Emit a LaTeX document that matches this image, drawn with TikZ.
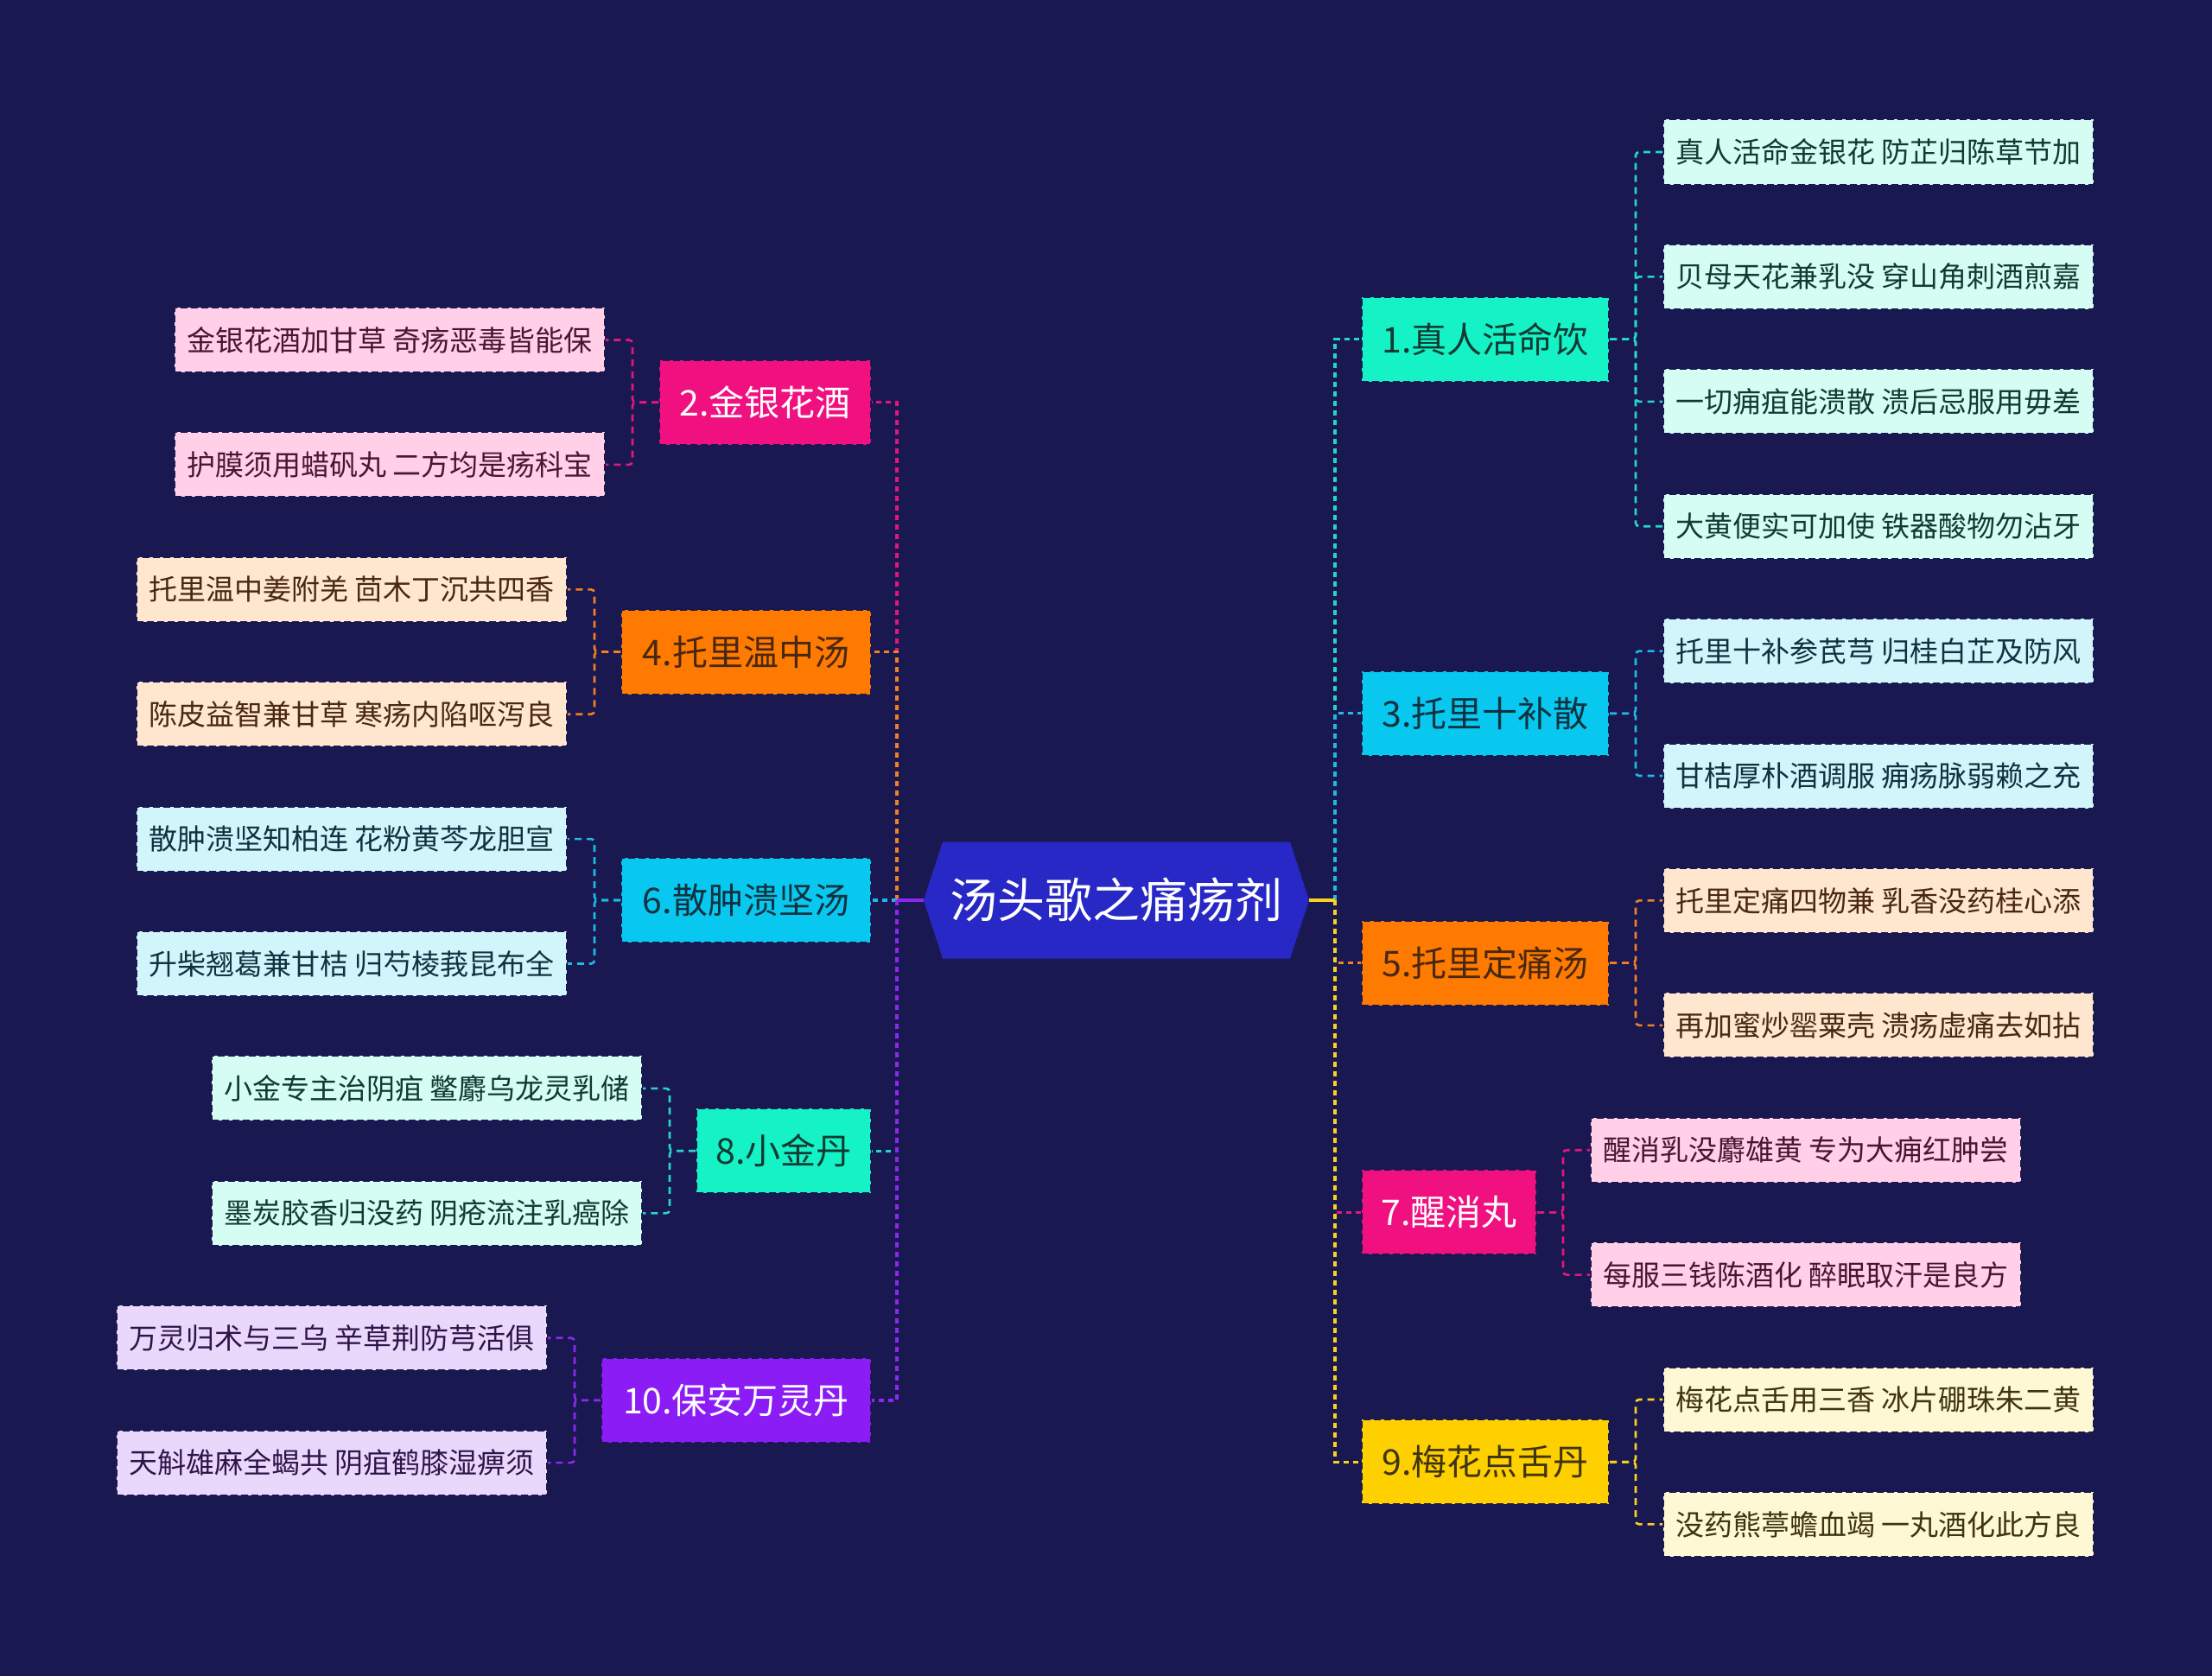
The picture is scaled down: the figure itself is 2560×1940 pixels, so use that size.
\documentclass[tikz,border=0pt]{standalone}
\usepackage{fontspec}
\setmainfont{Noto Sans CJK SC}
\usetikzlibrary{shapes.symbols,positioning}

\definecolor{bg}{RGB}{26,24,80}
\definecolor{rootc}{RGB}{40,40,198}
\definecolor{mint}{RGB}{20,242,198}
\definecolor{mintleaf}{RGB}{214,253,243}
\definecolor{mintline}{RGB}{36,214,198}
\definecolor{minttext}{RGB}{18,58,50}
\definecolor{rose}{RGB}{240,16,128}
\definecolor{roseleaf}{RGB}{255,208,232}
\definecolor{roseline}{RGB}{228,22,126}
\definecolor{rosetext}{RGB}{72,22,48}
\definecolor{sky}{RGB}{8,200,240}
\definecolor{skyleaf}{RGB}{210,245,252}
\definecolor{skyline}{RGB}{30,186,228}
\definecolor{skytext}{RGB}{16,50,64}
\definecolor{amber}{RGB}{255,122,0}
\definecolor{amberleaf}{RGB}{255,230,206}
\definecolor{amberline}{RGB}{242,128,36}
\definecolor{ambertext}{RGB}{72,40,18}
\definecolor{gold}{RGB}{255,208,0}
\definecolor{goldleaf}{RGB}{255,248,212}
\definecolor{goldline}{RGB}{250,210,30}
\definecolor{goldtext}{RGB}{62,52,18}
\definecolor{violet}{RGB}{140,28,246}
\definecolor{violetleaf}{RGB}{234,216,252}
\definecolor{violetline}{RGB}{142,40,240}
\definecolor{violettext}{RGB}{46,20,72}

\begin{document}
\begin{tikzpicture}[x=1pt,y=-1pt,
    lvone/.style={draw=bg, fill=#1, dash pattern=on 8pt off 4pt, line width=2pt,
      minimum height=98pt, inner sep=0pt, font=\fontsize{41}{48}\selectfont},
    leaf/.style={draw=bg, fill=#1leaf, text=#1text, dash pattern=on 8pt off 4pt,
      line width=2pt, minimum width=498pt, minimum height=75pt, inner sep=0pt,
      font=\fontsize{33}{40}\selectfont},
    trunk/.style={draw=#1line, dash pattern=on 6pt off 5pt, line width=3.2pt},
    twig/.style={draw=#1line, dash pattern=on 8pt off 6pt, line width=2.6pt, rounded corners=4pt}]
    \useasboundingbox (0,0) rectangle (2560,1940);
    \fill[bg] (0,0) rectangle (2560,1940);

    % root
    \node[signal, signal to=west and east, signal pointer angle=144, fill=rootc, text=white,
      minimum width=446pt, minimum height=135pt, inner sep=0pt,
      font=\fontsize{55}{64}\selectfont] (root) at (1292,1042) {汤头歌之痛疡剂};
    \coordinate (rr) at (1545,1042);
    \coordinate (rl) at (1038,1042);

    % right branches
    \node[lvone=mint, text=minttext, minimum width=286pt, anchor=west] (n1) at (1575,392.6) {1.真人活命饮};
    \node[lvone=sky, text=skytext, minimum width=286pt, anchor=west] (n3) at (1575,825.8) {3.托里十补散};
    \node[lvone=amber, text=ambertext, minimum width=286pt, anchor=west] (n5) at (1575,1114.6) {5.托里定痛汤};
    \node[lvone=rose, text=white, minimum width=202pt, anchor=west] (n7) at (1575,1403.4) {7.醒消丸};
    \node[lvone=gold, text=goldtext, minimum width=286pt, anchor=west] (n9) at (1575,1692.2) {9.梅花点舌丹};

    % left branches
    \node[lvone=rose, text=white, minimum width=245pt, anchor=east] (n2) at (1009,465.7) {2.金银花酒};
    \node[lvone=amber, text=ambertext, minimum width=289pt, anchor=east] (n4) at (1009,754.5) {4.托里温中汤};
    \node[lvone=sky, text=skytext, minimum width=289pt, anchor=east] (n6) at (1009,1042) {6.散肿溃坚汤};
    \node[lvone=mint, text=minttext, minimum width=202pt, anchor=east] (n8) at (1009,1332.1) {8.小金丹};
    \node[lvone=violet, text=white, minimum width=312pt, anchor=east] (n10) at (1009,1620.9) {10.保安万灵丹};

    % right leaves
    \node[leaf=mint, anchor=west, xshift=61pt] (l1a) at (n1.east |- 0,176) {真人活命金银花 防芷归陈草节加};
    \node[leaf=mint, anchor=west, xshift=61pt] (l1b) at (n1.east |- 0,320.4) {贝母天花兼乳没 穿山角刺酒煎嘉};
    \node[leaf=mint, anchor=west, xshift=61pt] (l1c) at (n1.east |- 0,464.8) {一切痈疽能溃散 溃后忌服用毋差};
    \node[leaf=mint, anchor=west, xshift=61pt] (l1d) at (n1.east |- 0,609.2) {大黄便实可加使 铁器酸物勿沾牙};
    \node[leaf=sky, anchor=west, xshift=61pt] (l3a) at (n3.east |- 0,753.6) {托里十补参芪芎 归桂白芷及防风};
    \node[leaf=sky, anchor=west, xshift=61pt] (l3b) at (n3.east |- 0,898) {甘桔厚朴酒调服 痈疡脉弱赖之充};
    \node[leaf=amber, anchor=west, xshift=61pt] (l5a) at (n5.east |- 0,1042.4) {托里定痛四物兼 乳香没药桂心添};
    \node[leaf=amber, anchor=west, xshift=61pt] (l5b) at (n5.east |- 0,1186.8) {再加蜜炒罂粟壳 溃疡虚痛去如拈};
    \node[leaf=rose, anchor=west, xshift=61pt] (l7a) at (n7.east |- 0,1331.2) {醒消乳没麝雄黄 专为大痈红肿尝};
    \node[leaf=rose, anchor=west, xshift=61pt] (l7b) at (n7.east |- 0,1475.6) {每服三钱陈酒化 醉眠取汗是良方};
    \node[leaf=gold, anchor=west, xshift=61pt] (l9a) at (n9.east |- 0,1620) {梅花点舌用三香 冰片硼珠朱二黄};
    \node[leaf=gold, anchor=west, xshift=61pt] (l9b) at (n9.east |- 0,1764.4) {没药熊葶蟾血竭 一丸酒化此方良};

    % left leaves
    \node[leaf=rose, anchor=east, xshift=-61pt] (l2a) at (n2.west |- 0,393.5) {金银花酒加甘草 奇疡恶毒皆能保};
    \node[leaf=rose, anchor=east, xshift=-61pt] (l2b) at (n2.west |- 0,537.9) {护膜须用蜡矾丸 二方均是疡科宝};
    \node[leaf=amber, anchor=east, xshift=-61pt] (l4a) at (n4.west |- 0,682.3) {托里温中姜附羌 茴木丁沉共四香};
    \node[leaf=amber, anchor=east, xshift=-61pt] (l4b) at (n4.west |- 0,826.7) {陈皮益智兼甘草 寒疡内陷呕泻良};
    \node[leaf=sky, anchor=east, xshift=-61pt] (l6a) at (n6.west |- 0,971.1) {散肿溃坚知柏连 花粉黄芩龙胆宣};
    \node[leaf=sky, anchor=east, xshift=-61pt] (l6b) at (n6.west |- 0,1115.5) {升柴翘葛兼甘桔 归芍棱莪昆布全};
    \node[leaf=mint, anchor=east, xshift=-61pt] (l8a) at (n8.west |- 0,1259.9) {小金专主治阴疽 鳖麝乌龙灵乳储};
    \node[leaf=mint, anchor=east, xshift=-61pt] (l8b) at (n8.west |- 0,1404.3) {墨炭胶香归没药 阴疮流注乳癌除};
    \node[leaf=violet, anchor=east, xshift=-61pt] (l10a) at (n10.west |- 0,1548.7) {万灵归术与三乌 辛草荆防芎活俱};
    \node[leaf=violet, anchor=east, xshift=-61pt] (l10b) at (n10.west |- 0,1693.1) {天斛雄麻全蝎共 阴疽鹤膝湿痹须};

    % root to branches
    \draw[trunk=mint] (rr) |- (n1.west);
    \draw[trunk=rose] (rl) |- (n2.east);
    \draw[trunk=sky] (rr) |- (n3.west);
    \draw[trunk=amber] (rl) |- (n4.east);
    \draw[trunk=amber] (rr) |- (n5.west);
    \draw[trunk=sky] (rl) |- (n6.east);
    \draw[trunk=rose] (rr) |- (n7.west);
    \draw[trunk=mint] (rl) |- (n8.east);
    \draw[trunk=gold] (rr) |- (n9.west);
    \draw[trunk=violet] (rl) |- (n10.east);
    \draw[goldline, line width=3.2pt] (root.east) -- (rr);
    \draw[violetline, line width=3.2pt] (root.west) -- (rl);

    % branches to leaves
    \foreach \l in {l1a,l1b,l1c,l1d} \draw[twig=mint] (n1.east) -- ++(30,0) |- (\l.west);
    \foreach \l in {l3a,l3b} \draw[twig=sky] (n3.east) -- ++(30,0) |- (\l.west);
    \foreach \l in {l5a,l5b} \draw[twig=amber] (n5.east) -- ++(30,0) |- (\l.west);
    \foreach \l in {l7a,l7b} \draw[twig=rose] (n7.east) -- ++(30,0) |- (\l.west);
    \foreach \l in {l9a,l9b} \draw[twig=gold] (n9.east) -- ++(30,0) |- (\l.west);
    \foreach \l in {l2a,l2b} \draw[twig=rose] (n2.west) -- ++(-30,0) |- (\l.east);
    \foreach \l in {l4a,l4b} \draw[twig=amber] (n4.west) -- ++(-30,0) |- (\l.east);
    \foreach \l in {l6a,l6b} \draw[twig=sky] (n6.west) -- ++(-30,0) |- (\l.east);
    \foreach \l in {l8a,l8b} \draw[twig=mint] (n8.west) -- ++(-30,0) |- (\l.east);
    \foreach \l in {l10a,l10b} \draw[twig=violet] (n10.west) -- ++(-30,0) |- (\l.east);
\end{tikzpicture}
\end{document}
